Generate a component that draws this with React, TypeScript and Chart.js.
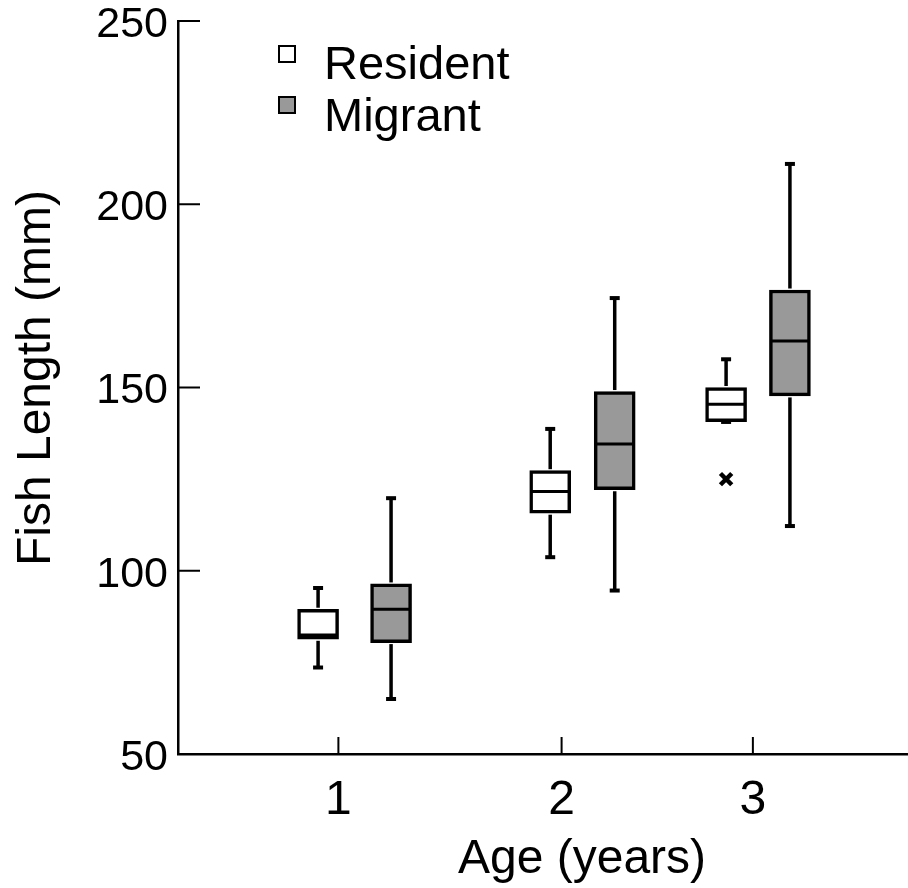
import React, { useEffect, useRef } from "react";
import { Chart, registerables } from "chart.js";

Chart.register(...registerables);

// ---- data ----
const seriesNames = ["Resident", "Migrant"];
const ageTickValues = [1, 2, 2.857];
const ageTickLabels = ["1", "2", "3"];
const yTickStep = 50;
const yMin = 50;
const yMax = 250;

const residentX = [0.909, 1.949, 2.737];
const residentMin = [73.6, 103.7, 140.6];
const residentQ1 = [81.3, 115.7, 140.7];
const residentMedian = [82.5, 121.6, 145.4];
const residentQ3 = [89.5, 127.3, 150.0];
const residentMax = [95.3, 138.7, 157.7];

const migrantX = [1.236, 2.238, 3.023];
const migrantMin = [65.0, 94.6, 112.2];
const migrantQ1 = [80.4, 122.1, 147.7];
const migrantMedian = [89.5, 134.6, 162.7];
const migrantQ3 = [96.4, 148.9, 176.6];
const migrantMax = [119.8, 174.4, 211.0];

const outlierX = [2.737];
const outlierY = [125.0];

const FONT = "'Liberation Sans', Arial, sans-serif";
const BOX_W = 41;

function line(ctx: CanvasRenderingContext2D, x1: number, y1: number, x2: number, y2: number) {
  ctx.beginPath();
  ctx.moveTo(x1, y1);
  ctx.lineTo(x2, y2);
  ctx.stroke();
}

const boxPlugin = {
  id: "boxWhiskers",
  afterDatasetsDraw(chart: any) {
    const { ctx, scales } = chart;
    const x = scales.x;
    const y = scales.y;
    const groups = [
      { xs: residentX, min: residentMin, q1: residentQ1, med: residentMedian, q3: residentQ3, max: residentMax },
      { xs: migrantX, min: migrantMin, q1: migrantQ1, med: migrantMedian, q3: migrantQ3, max: migrantMax },
    ];
    ctx.save();
    ctx.strokeStyle = "#000";
    ctx.lineCap = "butt";
    for (const g of groups) {
      for (let i = 0; i < g.xs.length; i++) {
        const px = x.getPixelForValue(g.xs[i]);
        const yMaxP = y.getPixelForValue(g.max[i]);
        const yMinP = y.getPixelForValue(g.min[i]);
        const yQ1 = y.getPixelForValue(g.q1[i]);
        const yQ3 = y.getPixelForValue(g.q3[i]);
        const yMed = y.getPixelForValue(g.med[i]);
        ctx.lineWidth = 3.5;
        if (yMaxP < yQ3 - 1) line(ctx, px, yQ3 - 1.5, px, yMaxP);
        if (yMinP > yQ1 + 1) line(ctx, px, yQ1 + 1.5, px, yMinP);
        ctx.lineWidth = 4;
        line(ctx, px - 5, yMaxP, px + 5, yMaxP);
        line(ctx, px - 5, yMinP, px + 5, yMinP);
        ctx.lineWidth = 3;
        line(ctx, px - BOX_W / 2 + 1, yMed, px + BOX_W / 2 - 1, yMed);
      }
    }
    ctx.restore();
  },
};

const decorPlugin = {
  id: "decor",
  afterDraw(chart: any) {
    const { ctx, scales, chartArea } = chart;
    const x = scales.x;
    const y = scales.y;
    ctx.save();
    ctx.strokeStyle = "#000";
    ctx.lineWidth = 2;
    // inward tick marks
    for (const t of y.ticks) {
      const py = y.getPixelForValue(t.value);
      line(ctx, chartArea.left, py, chartArea.left + 22, py);
    }
    for (const t of x.ticks) {
      const px = x.getPixelForValue(t.value);
      line(ctx, px, chartArea.bottom, px, chartArea.bottom - 17);
    }
    // axis titles
    ctx.fillStyle = "#000";
    ctx.font = `48px ${FONT}`;
    ctx.textAlign = "center";
    ctx.textBaseline = "alphabetic";
    ctx.fillText("Age (years)", 582, 873);
    ctx.save();
    ctx.translate(50, 378);
    ctx.rotate(-Math.PI / 2);
    ctx.fillText("Fish Length (mm)", 0, 0);
    ctx.restore();
    // legend
    const ds = chart.data.datasets;
    const rows = [
      { label: ds[0].label, fill: ds[0].backgroundColor, sq: 46, base: 79 },
      { label: ds[1].label, fill: ds[1].backgroundColor, sq: 97, base: 131 },
    ];
    ctx.font = `47px ${FONT}`;
    ctx.textAlign = "left";
    for (const r of rows) {
      ctx.fillStyle = r.fill;
      ctx.fillRect(279, r.sq, 16, 16);
      ctx.lineWidth = 2;
      ctx.strokeRect(279, r.sq, 16, 16);
      ctx.fillStyle = "#000";
      ctx.fillText(r.label, 324, r.base);
    }
    ctx.restore();
  },
};

export default function App() {
  const ref = useRef<HTMLCanvasElement | null>(null);
  useEffect(() => {
    if (!ref.current) return;
    const chart = new Chart(ref.current, {
      type: "bar",
      data: {
        datasets: [
          {
            label: seriesNames[0],
            data: residentX.map((v, i) => ({ x: v, y: [residentQ1[i], residentQ3[i]] })) as any,
            backgroundColor: "#ffffff",
            borderColor: "#000000",
            borderWidth: 3.5,
            borderSkipped: false,
            barThickness: BOX_W,
            grouped: false,
          } as any,
          {
            label: seriesNames[1],
            data: migrantX.map((v, i) => ({ x: v, y: [migrantQ1[i], migrantQ3[i]] })) as any,
            backgroundColor: "#999999",
            borderColor: "#000000",
            borderWidth: 3.5,
            borderSkipped: false,
            barThickness: BOX_W,
            grouped: false,
          } as any,
          {
            type: "scatter",
            label: "outlier",
            data: outlierX.map((v, i) => ({ x: v, y: outlierY[i] })),
            pointStyle: "crossRot",
            pointRadius: 8,
            borderColor: "#000000",
            borderWidth: 4.5,
            backgroundColor: "#000000",
          } as any,
        ],
      },
      options: {
        animation: false,
        responsive: false,
        layout: { autoPadding: false, padding: { top: 21, right: 0, left: 0, bottom: 0 } },
        plugins: { legend: { display: false }, tooltip: { enabled: false } },
        scales: {
          x: {
            type: "linear",
            offset: false,
            min: 0.2814,
            max: 3.552,
            grid: { display: false, drawTicks: false, offset: false },
            border: { display: true, color: "#000", width: 2.5 },
            afterBuildTicks: (scale: any) => {
              scale.ticks = ageTickValues.map((v) => ({ value: v }));
            },
            afterFit: (scale: any) => {
              scale.height = 134;
              scale.paddingLeft = 0;
              scale.paddingRight = 0;
            },
            ticks: {
              autoSkip: false,
              maxRotation: 0,
              padding: 18,
              color: "#000",
              font: { family: FONT, size: 48 },
              callback: (_v: any, i: number) => ageTickLabels[i],
            },
          },
          y: {
            type: "linear",
            min: yMin,
            max: yMax,
            grid: { display: false, drawTicks: false },
            border: { display: true, color: "#000", width: 2.5 },
            afterFit: (scale: any) => {
              scale.width = 178;
              scale.paddingTop = 0;
              scale.paddingBottom = 0;
            },
            ticks: {
              stepSize: yTickStep,
              padding: 10,
              labelOffset: 4,
              color: "#000",
              font: { family: FONT, size: 43 },
            },
          },
        },
      } as any,
      plugins: [boxPlugin, decorPlugin],
    });
    return () => chart.destroy();
  }, []);
  return (
    <div style={{ position: "absolute", left: 0, top: 0, width: 908, height: 888, background: "#fff" }}>
      <canvas ref={ref} width={908} height={888} style={{ display: "block" }} />
    </div>
  );
}
